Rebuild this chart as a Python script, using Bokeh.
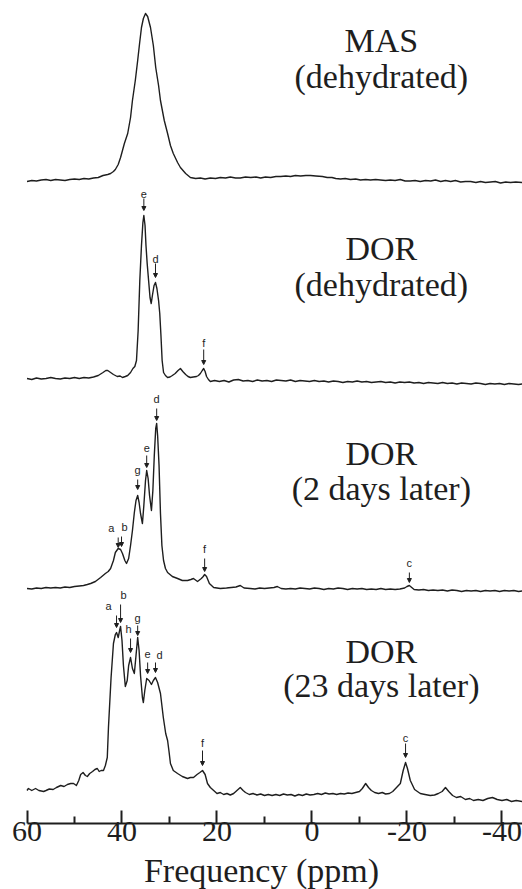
from bokeh.plotting import figure
from bokeh.models import Range1d, FixedTicker, Label, Arrow, NormalHead
from bokeh.embed import file_html
from bokeh.resources import INLINE

# ---------------- data (ppm, intensity above own baseline) ----------------
mas_points = [(60.0,-1),(59,0),(58,-0.5),(57,0.5),(56,1),(55,0),(54,1),(53,0.5),(52,0),(51,1),
    (50,1.5),(49,1),(48,2),(47,1.5),(46,2.5),(45,3),(44,5),(43,6),(42.4,7),(41.8,9),(41.4,11),
    (40.8,16),(40.3,23),(39.9,30),(39.5,37),(38.8,47),(38.2,63),(37.8,80),(37.2,100),(36.7,120),
    (36.3,137),(35.9,153),(35.5,162),(35.05,167),(34.6,164),(34.0,153),(33.4,135),(32.9,113),
    (32.3,95),(31.9,80),(31.1,60),(30.4,47),(29.8,35),(29.2,27),(28.3,18),(27.7,13),(26.6,7),
    (25.6,3),(24.5,2),(23.5,2.5),(22.5,1.5),(21.4,2.5),(20.3,2),(19.3,3),(18.2,2.5),(17.2,3.5),
    (16.1,2.5),(15.1,2.5),(14,3.5),(12.9,3),(11.8,3.5),(10.8,2.5),(9.8,3.5),(8.7,3),(7.6,4),
    (6.6,4),(5.5,4.5),(4.5,4),(3.5,5),(2.4,4.5),(1.3,5),(0.3,5),(-0.8,4.5),(-2.2,4),(-3.2,3),
    (-4.2,3),(-5.0,2),(-6,1.5),(-7,2),(-8.1,1),(-9.2,1.5),(-10.2,0.5),(-11.3,1),(-12.3,0.5),
    (-13.4,1),(-14.4,0.5),(-15.5,0),(-16.5,0.5),(-17.5,0),(-18.6,1),(-19.6,-0.5),(-20.7,-0.5),
    (-21.7,0),(-22.8,-1),(-23.9,0),(-25,-0.5),(-26,0.5),(-27.1,-1),(-28.1,0),(-29.2,-1),
    (-30.2,0),(-31.3,-1.5),(-32.3,-1),(-33.4,-1),(-34.5,-2),(-35.5,-1),(-36.5,-2),(-37.6,-1.5),
    (-38.6,-1),(-39.7,-2.5),(-40.8,-1.5),(-41.8,-2),(-42.9,-1.5),(-44.3,-2)]

dor_dehyd_points = [(60,2),(59,1),(58,2.5),(57,1.5),(56,2),(55,3),(54,2),(53,1.5),(52,2.5),(51,2),
    (50,3),(49,2),(48,3),(47,2.5),(46,3.5),(45,5),(44,8),(43.4,10),(43,10),(42.4,8),(41.8,6),
    (41,4),(40.4,4.5),(39.9,3),(39.3,4),(38.8,5),(38.2,8),(37.7,12),(37.3,14),(36.95,20),
    (36.6,50),(36.25,100),(35.9,135),(35.6,158),(35.4,165),(35.15,155),(34.95,135),(34.7,117),
    (34.4,100),(34.1,83),(33.85,77),(33.6,85),(33.25,95),(32.95,98),(32.65,92),(32.3,80),
    (32.05,67),(31.8,45),(31.55,20),(31.25,8),(30.85,5),(30.4,3),(29.9,3.5),(29.4,5),(28.8,7),
    (28.2,10),(27.7,12),(27.2,9),(26.6,6),(26.1,4),(25.6,3),(25,3.5),(24.3,4),(23.9,5),(23.5,7),
    (23.1,10),(22.8,12),(22.5,9),(22.2,4),(21.8,1),(21.4,-1),(20.5,0),(19.5,-1),(18.5,0),
    (17.5,-1.5),(16.5,0.5),(15.5,1),(14.5,-0.5),(13.5,0),(12.5,-1),(11.5,0.5),(10.5,-0.5),
    (9.5,0),(8.5,-1),(7.5,0.5),(6.5,0),(5.5,-0.5),(4.5,0.5),(3.5,-1),(2.5,0),(1.5,-0.5),
    (0.5,-1),(-0.5,0),(-1.5,-1),(-2.5,-0.5),(-3.5,-1.5),(-4.5,-0.5),(-5.5,-1),(-6.5,-2),
    (-7.5,-1),(-8.5,-1.5),(-9.5,-0.5),(-10.5,-1.5),(-11.5,-1),(-12.5,-2),(-13.5,-1.5),
    (-14.5,-1),(-15.5,-2),(-16.5,-1.5),(-17.5,-2.5),(-18.5,-1.5),(-19.5,-2),(-20.5,-1.5),
    (-21.5,-2.5),(-22.5,-2),(-23.5,-3),(-24.5,-2),(-25.5,-2.5),(-26.5,-3),(-27.5,-2),
    (-28.5,-3),(-29.5,-2.5),(-30.5,-3.5),(-31.5,-2.5),(-32.5,-3),(-33.5,-3.5),(-34.5,-2.5),
    (-35.5,-3),(-36.5,-4),(-37.5,-3),(-38.5,-3.5),(-39.5,-3),(-40.5,-4),(-41.5,-3),(-42.5,-3.5),
    (-43.5,-4),(-44.3,-3.5)]

dor_2day_points = [(60,0),(59,-0.5),(58,0.5),(57,0),(56,1),(55,0.5),(54,1),(53,0.5),(52,1.5),(51,1),
    (50,2),(49,2.5),(48.1,3),(47.3,4),(46.6,5),(45.6,7),(44.5,11),(43.5,15),(42.9,17),(42.4,20),
    (41.8,28),(41.4,36),(40.8,40),(40.3,39),(39.9,35),(39.4,28),(39.05,25),(38.6,30),(38.2,43),
    (37.8,58),(37.4,76),(37.05,88),(36.7,93),(36.4,86),(36.1,75),(35.7,65),(35.4,83),(35.05,108),
    (34.8,118),(34.5,110),(34.2,93),(33.8,78),(33.5,98),(33.2,133),(32.9,160),(32.7,165),
    (32.5,153),(32.2,123),(31.9,75),(31.6,43),(31.25,28),(30.85,20),(30.4,16),(29.4,12),
    (28.3,10),(27.3,8),(26.2,8),(25.5,9),(24.95,10),(24.1,7),(23.3,10),(22.9,12),(22.6,14),
    (22.2,12),(21.6,5),(20.7,1),(19.3,0),(18,0.5),(17,1),(16,1.5),(15.1,3),(14.3,0.5),(13,0),
    (12,-0.5),(11,0.5),(10,0),(9,0.5),(8,1),(7.3,2),(6.5,0),(5.5,-0.5),(4.5,0),(3.5,-0.5),
    (2.5,0.5),(1.5,0),(0.5,-0.5),(-0.5,0.5),(-1.5,0),(-2.5,-1),(-3.5,0),(-4.5,-0.5),(-5.5,0.5),
    (-6.5,0),(-7.5,-1),(-8.5,0),(-9.5,-0.5),(-10.5,0),(-11.5,-1),(-12.5,-0.5),(-13.5,-1),
    (-14.5,0),(-15.5,-1),(-16.5,-0.5),(-17.5,-1),(-18.5,-0.5),(-19.5,0.5),(-20,2),(-20.5,3),
    (-21,1),(-21.5,-1),(-22.5,-1.5),(-23.5,-1),(-24.5,-2),(-25.5,-1.5),(-26.5,-2),(-27.5,-1.5),
    (-28.5,-2.5),(-29.5,-1.5),(-30.5,-2),(-31.5,-3),(-32.5,-2),(-33.5,-2.5),(-34.5,-2),
    (-35.5,-3),(-36.5,-2),(-37.5,-2.5),(-38.5,-2),(-39.5,-3),(-40.5,-2),(-41.5,-2.5),(-42.5,-2),
    (-43.5,-3),(-44.3,-2.5)]

dor_23day_points = [(60,5),(59.7,7),(59,5),(58.2,7),(57.5,5),(56.5,4),(56,5),(55.3,6.5),(54.5,6),
    (53.8,8),(52.9,10),(52.2,9),(51.5,11),(50.8,12),(50.2,12),(49.6,10),(49.1,15),(48.7,21),
    (48.2,23),(47.7,20),(47.3,19),(46.8,22),(46.2,24),(45.7,26),(45.2,27),(44.8,24),(44.4,25),
    (43.9,25),(43.5,30),(43.1,38),(42.85,68),(42.3,118),(41.8,152),(41.4,161),(41.15,163),
    (40.8,158),(40.5,165),(40.3,169),(40.0,155),(39.7,130),(39.3,109),(38.9,115),(38.6,130),
    (38.2,138),(37.8,127),(37.4,122),(37.05,140),(36.7,158),(36.4,145),(36.1,120),(35.7,98),
    (35.5,93),(35.2,105),(34.8,117),(34.3,115),(33.8,111),(33.4,115),(32.95,118),(32.5,113),
    (31.9,102),(31.3,78),(30.8,62),(30.4,55),(30.1,44),(29.8,32),(29.2,25),(28.3,22),(27.3,19),
    (26.2,17),(25.6,18),(24.95,18),(24.2,21),(23.6,23),(23.05,25),(22.5,21),(22.0,12),(21.4,8),
    (20.7,5),(20,2),(19.3,3),(18.6,1),(17.9,2),(17.2,0.5),(16.5,2),(15.8,5),(15.1,8),(14.5,5),
    (14,3),(13.2,1),(12.4,2),(11.6,0.5),(10.8,1.5),(10,0),(9.2,1),(8.4,0),(7.6,1),(6.8,0),
    (6,1.5),(5.2,0.5),(4.4,1),(3.6,-0.5),(2.8,1),(2,0),(1.2,1.5),(0.4,0.5),(-0.4,1),(-1.2,2),
    (-2,1),(-2.8,2.5),(-3.6,1.5),(-4.4,2),(-5.2,1),(-6,2),(-6.8,1.5),(-7.6,2.5),(-8.4,2),
    (-9.2,3),(-10,4),(-10.6,7),(-11.3,12),(-11.9,8),(-12.5,5),(-13.2,3),(-14,2),(-14.8,3),
    (-15.5,1.5),(-16.3,2),(-17,4),(-17.6,7),(-18.6,12),(-19.2,25),(-19.7,33),(-20.1,27),
    (-20.7,15),(-21.6,6),(-22.8,2),(-23.8,1),(-24.9,0),(-25.8,0.5),(-26.6,2),(-27.4,4),
    (-28.1,8),(-28.8,4),(-29.6,0),(-30.4,-2),(-31.3,-1),(-32.3,-4),(-33.2,-3),(-34,-5),
    (-35,-4),(-36,-5),(-37,-3),(-38,-2),(-39,-4),(-40,-5),(-41,-4),(-42,-6),(-43,-5),(-44.3,-6)]

spectrum_points = [mas_points, dor_dehyd_points, dor_2day_points, dor_23day_points]
spectrum_offsets = [643, 443, 235, 28]

title_line1 = ["MAS", "DOR", "DOR", "DOR"]
title_line2 = ["(dehydrated)", "(dehydrated)", "(2 days later)", "(23 days later)"]

# peak assignments: (spectrum index, letter, ppm, peak intensity)
peak_labels = [
    (1, "e", 35.4, 165), (1, "d", 32.95, 98), (1, "f", 22.8, 12),
    (2, "a", 40.8, 40), (2, "b", 40.1, 39), (2, "g", 36.7, 93), (2, "e", 34.8, 118),
    (2, "d", 32.7, 165), (2, "f", 22.6, 14), (2, "c", -20.5, 3),
    (3, "a", 41.15, 163), (3, "b", 40.3, 169), (3, "h", 38.2, 138), (3, "g", 36.7, 158),
    (3, "e", 34.6, 117), (3, "d", 32.95, 118), (3, "f", 23.05, 25), (3, "c", -19.7, 33),
]

tick_values = [60, 40, 20, 0, -20, -40]
tick_labels = ["60", "40", "20", "0", "-20", "-40"]
minor_tick_values = [50, 30, 10, -10, -30]
axis_title = "Frequency (ppm)"

# ---------------- layout / style ----------------
# per-label: (arrow gap above peak, arrow length, letter centre above peak, letter x shift in px)
label_layout = [
    (5, 12, 22, 0), (5, 14, 24, 0), (4, 15, 26, 0),
    (1, 10, 21, -7), (3, 10, 23, 3), (6, 10, 26, 0), (3, 12, 23, 0),
    (3, 12, 25, 0), (3, 13, 26, 0), (3, 10, 23, 0),
    (5, 12, 27, -8), (4, 18, 32, 3), (5, 14, 29, -2), (2, 10, 20, 0),
    (5, 11, 25, 0), (5, 10, 23, 4), (5, 15, 28, 0), (5, 14, 25, 0),
]
title_y = [(783, 747), (575, 539), (370, 335), (172, 138)]
title_x = -14.6
PX_PER_PPM = 4.75

ink = "#1e1e1e"
SERIF = "Liberation Serif"
SANS = "Liberation Sans"

p = figure(frame_width=522, frame_height=823, x_range=Range1d(65.58, -44.32), y_range=Range1d(0, 823),
           output_backend="svg", toolbar_location=None, y_axis_location=None,
           min_border_left=0, min_border_right=0, min_border_top=0, min_border_bottom=0)
p.grid.visible = False
p.outline_line_color = None
p.background_fill_color = "white"
p.border_fill_color = "white"

for pts, off in zip(spectrum_points, spectrum_offsets):
    xs = [a for a, b in pts]
    ys = [off + b for a, b in pts]
    p.line(xs, ys, line_color=ink, line_width=1.4, line_join="round")

for (t1, t2), (y1, y2) in zip(zip(title_line1, title_line2), title_y):
    for txt, yy in ((t1, y1), (t2, y2)):
        p.add_layout(Label(x=title_x, y=yy, text=txt, text_align="center", text_baseline="middle",
                           text_font=SERIF, text_font_size="34px", text_color=ink))

for (si, letter, ppm, h), (gap, alen, lgap, dx) in zip(peak_labels, label_layout):
    base = spectrum_offsets[si] + h
    p.add_layout(Arrow(x_start=ppm, y_start=base + gap + alen, x_end=ppm, y_end=base + gap,
                       line_color=ink, line_width=1,
                       end=NormalHead(size=4, line_color=ink, fill_color=ink, line_width=1)))
    p.add_layout(Label(x=ppm - dx / PX_PER_PPM, y=base + lgap, text=letter, text_align="center",
                       text_baseline="middle", text_font=SANS, text_font_size="11px",
                       text_color=ink))

ax = p.xaxis[0]
ax.ticker = FixedTicker(ticks=tick_values, minor_ticks=minor_tick_values)
ax.major_label_overrides = {v: s for v, s in zip(tick_values, tick_labels)}
ax.bounds = (-44.32, 60)
ax.axis_line_width = 2
ax.axis_line_color = ink
ax.major_tick_in = 13
ax.major_tick_out = 0
ax.minor_tick_in = 7
ax.minor_tick_out = 0
ax.major_tick_line_width = 2
ax.minor_tick_line_width = 2
ax.major_tick_line_color = ink
ax.minor_tick_line_color = ink
ax.major_label_text_font = SERIF
ax.major_label_text_font_size = "30px"
ax.major_label_text_color = ink
ax.major_label_standoff = -2
ax.axis_label = axis_title
ax.axis_label_text_font = SERIF
ax.axis_label_text_font_size = "34px"
ax.axis_label_text_font_style = "normal"
ax.axis_label_text_color = ink
ax.axis_label_standoff = 8

open("out.html", "w").write(file_html(p, INLINE))
